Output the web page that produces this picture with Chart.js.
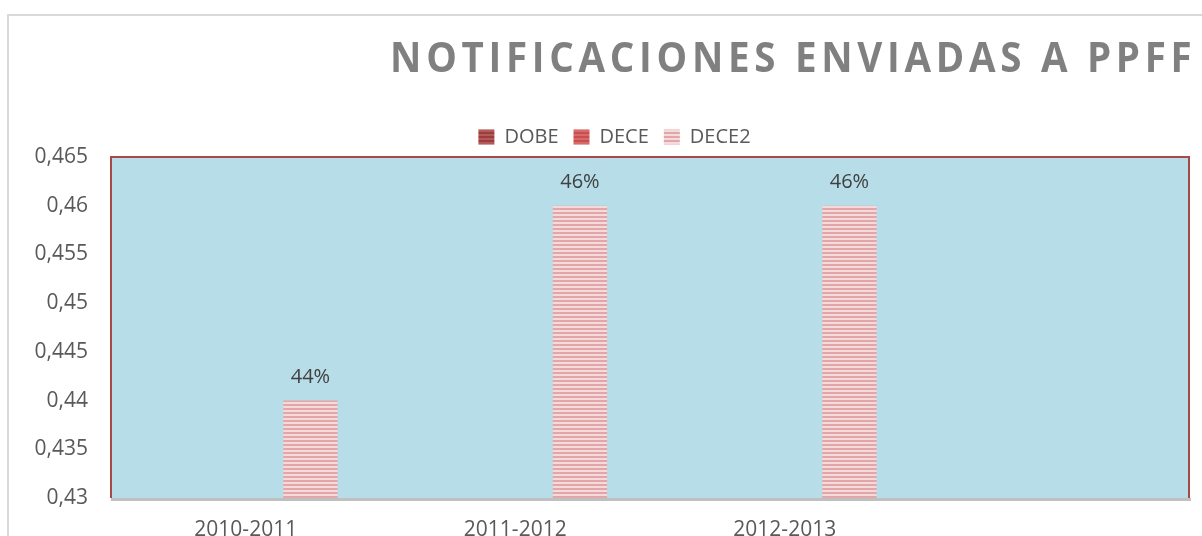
<!DOCTYPE html>
<html>
<head>
<meta charset="utf-8">
<script src="https://cdn.jsdelivr.net/npm/chart.js@4"></script>
<style>
  html, body { margin: 0; padding: 0; background: #fff; overflow: hidden; }
  #wrap { width: 1202px; height: 536px; position: relative; }
</style>
</head>
<body>
<div id="wrap"><canvas id="notificaciones"></canvas></div>
<script>
var periodos = ['2010-2011', '2011-2012', '2012-2013', ''];
var dobe = [null, null, null, null];
var dece = [null, null, null, null];
var dece2 = [0.44, 0.46, 0.46, null];
var yTicks = [0.43, 0.435, 0.44, 0.445, 0.45, 0.455, 0.46, 0.465];
var titulo = 'NOTIFICACIONES ENVIADAS A PPFF';

function stripes(c1, c2) {
    var p = document.createElement('canvas');
    p.width = 4; p.height = 4;
    var g = p.getContext('2d');
    g.fillStyle = c1; g.fillRect(0, 0, 4, 2);
    g.fillStyle = c2; g.fillRect(0, 2, 4, 2);
    return g.createPattern(p, 'repeat');
}

var framePlugin = {
    id: 'frame',
    afterLayout: function(chart) {
        // legend sits a little right of the canvas centre
        chart.legend.left += 20;
        chart.legend.right += 20;
    },
    beforeDraw: function(chart) {
        var ctx = chart.ctx, a = chart.chartArea;
        ctx.save();
        ctx.strokeStyle = '#d9d9d9';
        ctx.lineWidth = 2;
        ctx.beginPath();
        ctx.moveTo(8, 540); ctx.lineTo(8, 15); ctx.lineTo(1210, 15);
        ctx.stroke();
        ctx.fillStyle = '#b7dde8';
        ctx.fillRect(a.left, a.top, a.right - a.left, a.bottom - a.top);
        // title, slightly condensed with letter spacing
        ctx.translate(392, 72);
        ctx.scale(0.94, 1);
        ctx.font = 'bold 41px "Open Sans"';
        ctx.letterSpacing = '5px';
        ctx.fillStyle = '#808080';
        ctx.textBaseline = 'alphabetic';
        ctx.fillText(titulo, -2, 0);
        ctx.restore();
    },
    afterDatasetsDraw: function(chart) {
        var ctx = chart.ctx, a = chart.chartArea;
        ctx.save();
        ctx.strokeStyle = '#c0c0c0';
        ctx.lineWidth = 3;
        ctx.beginPath();
        ctx.moveTo(a.left, a.bottom + 1.5); ctx.lineTo(a.right + 2, a.bottom + 1.5);
        ctx.stroke();
        ctx.strokeStyle = '#a94848';
        ctx.lineWidth = 2;
        ctx.beginPath();
        ctx.moveTo(a.left, a.bottom); ctx.lineTo(a.left, a.top);
        ctx.lineTo(a.right, a.top); ctx.lineTo(a.right, a.bottom);
        ctx.stroke();
        // data labels
        ctx.font = '20px "Open Sans"';
        ctx.fillStyle = '#404040';
        ctx.textAlign = 'center';
        ctx.textBaseline = 'bottom';
        chart.data.datasets.forEach(function(ds, i) {
            var meta = chart.getDatasetMeta(i);
            meta.data.forEach(function(bar, j) {
                var v = ds.data[j];
                if (v == null) return;
                ctx.fillText(Math.round(v * 100) + '%', bar.x, bar.y - 13);
            });
        });
        ctx.restore();
    }
};

document.addEventListener("DOMContentLoaded", function() {
    var statisticsItem = document.getElementById("notificaciones");

    var data = {
        labels: periodos,
        datasets: [{
            label: 'DOBE',
            backgroundColor: stripes('#9c3c3c', '#b55a5a'),
            data: dobe
        }, {
            label: 'DECE',
            backgroundColor: stripes('#c94e4e', '#d86a6a'),
            data: dece
        }, {
            label: 'DECE2',
            backgroundColor: stripes('#e2a6a8', '#f4dada'),
            data: dece2
        }]
    };

    var options = {
        responsive: false,
        animation: false,
        layout: { padding: { top: 112, right: 13, left: 0, bottom: 0 } },
        categoryPercentage: 0.72,
        barPercentage: 0.84,
        plugins: {
            legend: {
                labels: {
                    font: { family: 'Open Sans', size: 20 },
                    color: '#595959',
                    boxWidth: 16,
                    boxHeight: 15,
                    padding: 15
                }
            },
            tooltip: { enabled: false }
        },
        scales: {
            y: {
                min: 0.43,
                max: 0.465,
                afterFit: function(s) { s.width = 111; },
                afterBuildTicks: function(s) { s.ticks = yTicks.map(function(v) { return { value: v }; }); },
                grid: { display: false, drawTicks: false },
                border: { display: false },
                ticks: {
                    padding: 23,
                    color: '#595959',
                    font: { family: 'Open Sans', size: 21 },
                    callback: function(v) { return String(+v.toFixed(3)).replace('.', ','); }
                }
            },
            x: {
                afterFit: function(s) { s.height = 38; },
                grid: { display: false, drawTicks: false },
                border: { display: false },
                ticks: {
                    padding: 19,
                    maxRotation: 0,
                    color: '#595959',
                    font: { family: 'Open Sans', size: 21 }
                }
            }
        }
    };

    statisticsItem.width = 1202;
    statisticsItem.height = 536;
    new Chart(statisticsItem, {
        type: 'bar',
        data: data,
        options: options,
        plugins: [framePlugin]
    });
});
</script>
</body>
</html>
